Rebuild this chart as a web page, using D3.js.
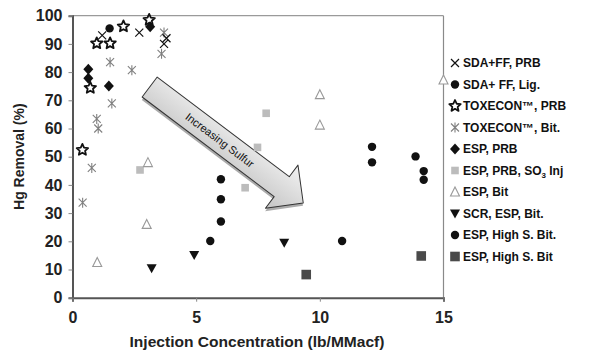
<!DOCTYPE html>
<html><head><meta charset="utf-8">
<script src="https://cdn.jsdelivr.net/npm/d3@7"></script>
<style>body{margin:0;background:#fff}svg{display:block}</style>
</head><body>
<script>
// ---- data ----
const xTicks = [0, 5, 10, 15];
const yTicks = [0, 10, 20, 30, 40, 50, 60, 70, 80, 90, 100];
const seriesNames = ["SDA+FF, PRB", "SDA+ FF, Lig.", "TOXECON™, PRB", "TOXECON™, Bit.", "ESP, PRB", "ESP, PRB, SO3 Inj", "ESP, Bit", "SCR, ESP, Bit.", "ESP, High S. Bit.", "ESP, High S. Bit"];
const sdaffPrb = [[1.2, 93], [2.7, 94], [3.7, 90], [3.8, 92]];
const sdaffLig = [[1.5, 95.5]];
const toxPrb = [[0.4, 52.4], [0.72, 74.4], [0.98, 90.2], [1.52, 90.2], [2.06, 96.2], [3.1, 98.5]];
const toxBit = [[1.52, 83.5], [2.4, 80.7], [1.59, 68.9], [0.98, 63.4], [1.04, 60], [0.78, 46], [0.41, 33.7], [3.7, 94], [3.6, 86.5]];
const espPrb = [[0.64, 81], [0.64, 77.8], [1.47, 75.1], [3.14, 96.1]];
const espPrbSo3 = [[2.73, 45.3], [7.83, 65.4], [7.48, 53.3], [6.98, 39]];
const espBit = [[1.0, 12.5], [3.0, 26], [3.05, 47.9], [10.0, 61.2], [10.0, 72], [15.0, 77.2]];
const scrEspBit = [[3.2, 10.4], [4.92, 15.1], [8.56, 19.5]];
const highSDot = [[5.57, 20.1], [6.0, 27], [6.0, 34.9], [6.0, 42], [10.9, 20.1], [12.11, 53.5], [12.11, 48], [13.87, 50.1], [14.2, 44.9], [14.2, 41.8]];
const highSSq = [[9.45, 8.2], [14.1, 14.8]];
const arrowFrom = [3.12, 74.7], arrowTo = [9.33, 33.6];
const arrowLabel = "Increasing Sulfur";

// ---- layout ----
const W = 591, H = 351;
const x = d3.scaleLinear().domain([0, 15]).range([72.5, 443.5]);
const y = d3.scaleLinear().domain([0, 100]).range([297.7, 15.7]);
const svg = d3.select("body").append("svg").attr("width", W).attr("height", H);
const FONT = "'Liberation Sans', Arial, sans-serif";
const NARROW = "'Liberation Sans Narrow', 'Arial Narrow', 'Liberation Sans', sans-serif";

// frame
svg.append("line").attr("x1", x(0)).attr("x2", x(15)).attr("y1", y(100)).attr("y2", y(100)).attr("stroke", "#9a9a9a").attr("stroke-width", 1.2);
svg.append("line").attr("x1", x(15)).attr("x2", x(15)).attr("y1", y(100)).attr("y2", y(0)).attr("stroke", "#8a8a8a").attr("stroke-width", 1.2);

// axes
const yAxis = svg.append("g").attr("transform", `translate(${x(0)},0)`)
  .call(d3.axisLeft(y).tickValues(yTicks).tickSize(4).tickPadding(6));
const xAxis = svg.append("g").attr("transform", `translate(0,${y(0)})`)
  .call(d3.axisBottom(x).tickValues(xTicks).tickSize(4).tickPadding(10));
[xAxis, yAxis].forEach(g => {
  g.select(".domain").attr("stroke", "#555").attr("stroke-width", 2);
  g.selectAll(".tick line").attr("stroke", "#888");
  g.selectAll("text").attr("font-family", FONT).attr("font-weight", "bold").attr("font-size", 16).attr("fill", "#222");
});

// axis titles
svg.append("text").attr("transform", `translate(24,${(y(0) + y(100)) / 2}) rotate(-90)`)
  .attr("text-anchor", "middle").attr("font-family", FONT).attr("font-weight", "bold").attr("font-size", 14).attr("fill", "#222")
  .text("Hg Removal (%)");
svg.append("text").attr("x", 257).attr("y", 347).attr("text-anchor", "middle")
  .attr("font-family", FONT).attr("font-weight", "bold").attr("font-size", 15).attr("fill", "#222")
  .attr("textLength", 255).attr("lengthAdjust", "spacingAndGlyphs")
  .text("Injection Concentration (lb/MMacf)");

// arrow annotation
const ax0 = x(arrowFrom[0]), ay0 = y(arrowFrom[1]), ax1 = x(arrowTo[0]), ay1 = y(arrowTo[1]);
const ang = Math.atan2(ay1 - ay0, ax1 - ax0) * 180 / Math.PI;
const L = Math.hypot(ax1 - ax0, ay1 - ay0);
const hw = 12.5, hh = 27, hl = 27;
const arrowPts = [[0, -hw], [L - hl, -hw], [L - hl, -hh], [L, 0], [L - hl, hh], [L - hl, hw], [0, hw]];
const defs = svg.append("defs");
const grad = defs.append("linearGradient").attr("id", "ag").attr("x1", 0).attr("y1", 0).attr("x2", 0).attr("y2", 1);
grad.append("stop").attr("offset", "0%").attr("stop-color", "#f2f2f2");
grad.append("stop").attr("offset", "100%").attr("stop-color", "#c4c4c4");
const ag = svg.append("g").attr("transform", `translate(${ax0},${ay0}) rotate(${ang})`);
ag.append("path").attr("d", d3.line()(arrowPts) + "Z").attr("transform", "translate(1.5,2.5)").attr("fill", "#666").attr("opacity", 0.55);
ag.append("path").attr("d", d3.line()(arrowPts) + "Z").attr("fill", "url(#ag)").attr("stroke", "#333").attr("stroke-width", 1).attr("stroke-linejoin", "round");
ag.append("text").attr("x", 88).attr("y", 4).attr("text-anchor", "middle")
  .attr("font-family", FONT).attr("font-size", 11).attr("fill", "#111").text(arrowLabel);

// marker drawing
function marker(g, type) {
  const star = (r1, r2) => d3.range(10).map(i => { const a = -Math.PI / 2 + i * Math.PI / 5, r = i % 2 ? r2 : r1; return [r * Math.cos(a), r * Math.sin(a)]; });
  switch (type) {
    case "x":
      g.append("path").attr("d", "M-4,-4L4,4M-4,4L4,-4").attr("stroke", "#111").attr("stroke-width", 1.2).attr("fill", "none"); break;
    case "dot":
      g.append("circle").attr("r", 4.2).attr("fill", "#111"); break;
    case "star":
      g.append("path").attr("d", d3.line()(star(6, 2.8)) + "Z").attr("fill", "#fff").attr("stroke", "#111").attr("stroke-width", 1.8).attr("stroke-linejoin", "round"); break;
    case "ast":
      g.append("path").attr("d", "M-4,-4L4,4M-4,4L4,-4M0,-5L0,5").attr("stroke", "#808080").attr("stroke-width", 1.1).attr("fill", "none"); break;
    case "diamond":
      g.append("path").attr("d", "M0,-5.5L5,0L0,5.5L-5,0Z").attr("fill", "#111"); break;
    case "sqLight":
      g.append("rect").attr("x", -3.8).attr("y", -3.8).attr("width", 7.6).attr("height", 7.6).attr("fill", "#bcbcbc"); break;
    case "triOpen":
      g.append("path").attr("d", "M0,-5L4.5,4L-4.5,4Z").attr("fill", "#fff").attr("stroke", "#999").attr("stroke-width", 1.1); break;
    case "triDown":
      g.append("path").attr("d", "M-5,-4L5,-4L0,5Z").attr("fill", "#111"); break;
    case "sqDark":
      g.append("rect").attr("x", -4.8).attr("y", -4.8).attr("width", 9.6).attr("height", 9.6).attr("fill", "#4a4a4a"); break;
  }
}
const series = [
  [sdaffPrb, "x"], [sdaffLig, "dot"], [toxPrb, "star"], [toxBit, "ast"], [espPrb, "diamond"],
  [espPrbSo3, "sqLight"], [espBit, "triOpen"], [scrEspBit, "triDown"], [highSDot, "dot"], [highSSq, "sqDark"]
];
const order = [5, 6, 3, 0, 2, 1, 4, 7, 8, 9];
order.forEach(i => {
  const [data, type] = series[i];
  data.forEach(d => marker(svg.append("g").attr("transform", `translate(${x(d[0])},${y(d[1])})`), type));
});

// legend
const lg = svg.append("g");
seriesNames.forEach((name, i) => {
  const yy = 63 + i * 21.5;
  marker(lg.append("g").attr("transform", `translate(455,${yy})`), series[i][1]);
  const t = lg.append("text").attr("x", 463).attr("y", yy + 4).attr("font-family", NARROW).attr("font-weight", "bold").attr("font-size", 12).attr("fill", "#111");
  if (name.includes("SO3")) {
    t.append("tspan").text("ESP, PRB, SO");
    t.append("tspan").attr("font-size", 8).attr("dy", 3).text("3");
    t.append("tspan").attr("dy", -3).text(" Inj");
  } else t.text(name);
});
</script>
</body></html>
